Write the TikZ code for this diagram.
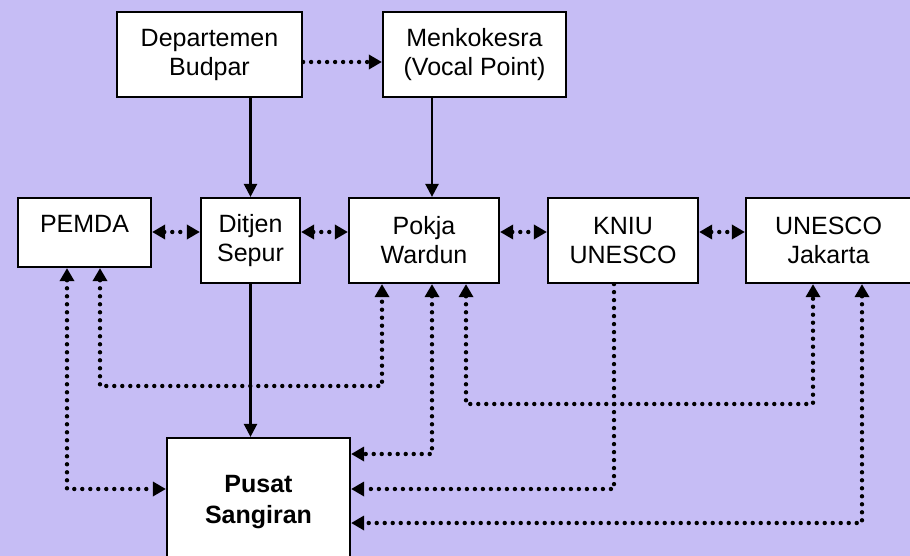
\documentclass[tikz,border=0pt]{standalone}
\usepackage{fontspec}
\setmainfont{Liberation Sans}
\usetikzlibrary{arrows.meta,calc}
\definecolor{bgc}{RGB}{198,189,245}
\tikzset{
  box/.style={draw=black, fill=white, line width=2.2pt, inner sep=0pt, align=center,
    font=\fontsize{25}{29}\selectfont},
  solidarrow/.style={line width=2.4pt, -{Triangle[length=13pt,width=13pt]}},
  dotline/.style={line width=4.4pt, line cap=round, dash pattern=on 0pt off 8pt},
  dotarrow/.style={dotline, -{Triangle[length=13pt,width=14pt]}},
  dotboth/.style={dotline, {Triangle[length=13pt,width=14pt]}-{Triangle[length=13pt,width=14pt]}},
}
\begin{document}
\begin{tikzpicture}[x=1pt,y=-1pt]
\useasboundingbox (0,0) rectangle (910,556);
\fill[bgc] (0,0) rectangle (910,556);
\begin{scope}
\clip (0,0) rectangle (910,556);
% nodes
\node[box, minimum width=185pt, minimum height=85pt] (budpar) at (209.5,54.5) {Departemen\\Budpar};
\node[box, minimum width=183pt, minimum height=85pt] (menko) at (474.5,54.5) {Menkokesra\\(Vocal Point)};
\node[draw=black, fill=white, line width=2.2pt, inner sep=0pt, font=\fontsize{25}{29}\selectfont,
  text height=18pt, text depth=17pt, minimum width=133pt, minimum height=69pt] (pemda) at (84.5,232.5) {PEMDA};
\node[box, minimum width=99pt, minimum height=85pt] (ditjen) at (250.5,240.5) {Ditjen\\Sepur};
\node[box, minimum width=150pt, minimum height=85pt] (pokja) at (424,240.5) {Pokja\\Wardun};
\node[box, minimum width=150pt, minimum height=85pt] (kniu) at (623,240.5) {KNIU\\UNESCO};
\node[box, minimum width=165pt, minimum height=85pt] (unesco) at (828.5,240.5) {UNESCO\\Jakarta};
\node[box, font=\bfseries\fontsize{25}{31}\selectfont, minimum width=183pt, minimum height=128pt]
  (pusat) at (258.5,502) {Pusat\\Sangiran};

% helper coordinates
\coordinate (ytop) at (0,62);
\coordinate (yrow) at (0,232);
\coordinate (y386) at (0,386);
\coordinate (y404) at (0,404);
\coordinate (y454) at (0,454);
\coordinate (y489) at (0,489);
\coordinate (y523) at (0,523);
\coordinate (x67) at (67,0);
\coordinate (x100) at (100,0);
\coordinate (x382) at (382,0);
\coordinate (x432) at (432,0);
\coordinate (x466) at (466,0);
\coordinate (x614) at (614,0);
\coordinate (x813) at (813,0);
\coordinate (x862) at (862,0);

% top connectors
\draw[dotarrow] (budpar.east |- ytop) -- (menko.west |- ytop);
\draw[solidarrow] (ditjen.north |- budpar.south) -- (ditjen.north);
\draw[solidarrow] (x432 |- menko.south) -- (x432 |- pokja.north);

% row connectors
\draw[dotboth] (pemda.east |- yrow) -- (ditjen.west |- yrow);
\draw[dotboth] (ditjen.east |- yrow) -- (pokja.west |- yrow);
\draw[dotboth] (pokja.east |- yrow) -- (kniu.west |- yrow);
\draw[dotboth] (kniu.east |- yrow) -- (unesco.west |- yrow);

% Ditjen -> Pusat
\draw[solidarrow] (ditjen.south) -- (ditjen.south |- pusat.north);

% lower dotted connectors
\draw[dotboth] (x67 |- pemda.south) -- (x67 |- y489) -- (pusat.west |- y489);
\draw[dotboth] (x100 |- pemda.south) -- (x100 |- y386) -- (x382 |- y386) -- (x382 |- pokja.south);
\draw[dotboth] (x432 |- pokja.south) -- (x432 |- y454) -- (pusat.east |- y454);
\draw[dotboth] (x466 |- pokja.south) -- (x466 |- y404) -- (x813 |- y404) -- (x813 |- unesco.south);
\draw[dotarrow] (x614 |- kniu.south) -- (x614 |- y489) -- (pusat.east |- y489);
\draw[dotboth] (x862 |- unesco.south) -- (x862 |- y523) -- (pusat.east |- y523);
\end{scope}
\end{tikzpicture}
\end{document}
